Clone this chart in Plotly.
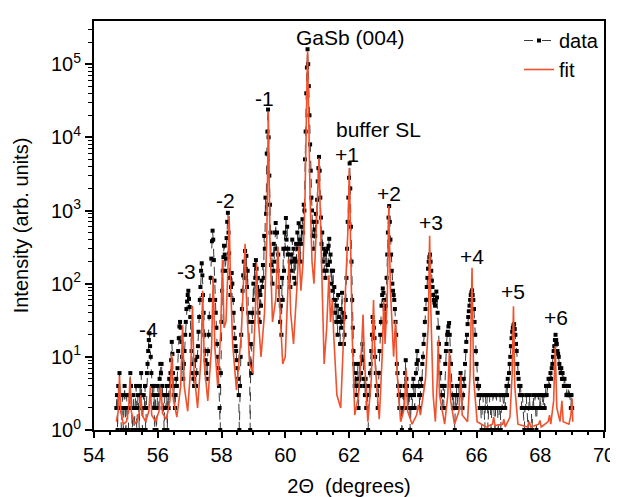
import math
import plotly.graph_objects as go

# ---------------- data ----------------
# measured scan: regular 2-theta grid, start 54.70 deg, step 0.02 deg
scan_start = 54.70
scan_step = 0.02
counts = [
    # 54.70 - 55.68
    2, 3, 1, 4, 2, 6, 3, 2, 1, 2,
    3, 1, 2, 4, 2, 1, 3, 2, 2, 1,
    3, 2, 6, 4, 2, 1, 2, 3, 1, 2,
    2, 4, 1, 2, 3, 2, 1, 4, 2, 6,
    3, 1, 2, 3, 2, 4, 1, 2, 6, 8,
    # 55.70 - 56.68
    12, 17, 21, 14, 10, 6, 4, 3, 2, 4,
    1, 3, 2, 1, 2, 4, 2, 3, 5, 8,
    6, 8, 4, 3, 2, 1, 3, 2, 2, 4,
    1, 3, 2, 5, 4, 6, 9, 16, 11, 6,
    3, 4, 2, 3, 5, 4, 7, 12, 18, 26,
    # 56.70 - 57.68
    30, 25, 16, 10, 7, 5, 8, 12, 20, 30,
    45, 57, 70, 80, 62, 48, 35, 20, 12, 8,
    6, 5, 4, 6, 9, 4, 6, 10, 14, 22,
    35, 60, 90, 150, 190, 130, 70, 40, 20, 12,
    9, 6, 5, 8, 12, 20, 35, 60, 120, 220,
    # 57.70 - 58.68
    380, 530, 400, 210, 110, 60, 40, 25, 15, 10,
    7, 4, 2, 1, 6, 30, 80, 150, 230, 330,
    250, 150, 220, 420, 700, 930, 500, 260, 120, 70,
    90, 140, 100, 60, 40, 25, 18, 14, 12, 9,
    7, 5, 3, 1, 4, 10, 20, 45, 80, 130,
    # 58.70 - 59.68
    200, 120, 280, 160, 240, 90, 150, 40, 30, 8,
    1, 15, 6, 40, 30, 100, 60, 180, 120, 210,
    160, 90, 120, 40, 80, 30, 70, 50, 110, 90,
    180, 120, 450, 300, 1500, 900, 6000, 12000, 24000, 10000,
    3000, 1200, 500, 180, 250, 100, 150, 350, 200, 500,
    # 59.70 - 60.68
    675, 300, 500, 150, 250, 60, 90, 30, 50, 20,
    120, 60, 300, 150, 500, 300, 790, 400, 600, 250,
    300, 120, 200, 90, 250, 150, 400, 200, 300, 120,
    220, 100, 350, 200, 500, 300, 670, 350, 400, 200,
    600, 350, 760, 500, 1200, 1000, 5000, 12000, 40000, 90000,
    # 60.70 - 61.68
    160000, 100000, 50000, 20000, 8000, 3500, 1500, 1000, 450, 700,
    300, 550, 450, 900, 700, 1400, 2500, 3800, 5400, 3500,
    1500, 800, 350, 500, 200, 300, 150, 250, 120, 280,
    150, 300, 180, 330, 410, 200, 250, 100, 150, 80,
    150, 60, 90, 40, 60, 30, 50, 20, 70, 35,
    # 61.70 - 62.68
    30, 15, 45, 25, 75, 30, 40, 15, 20, 35,
    60, 120, 300, 700, 1500, 2800, 4400, 2000, 600, 200,
    60, 25, 12, 8, 4, 6, 3, 5, 4, 8,
    2, 5, 8, 4, 6, 10, 15, 9, 5, 4,
    3, 5, 2, 4, 3, 1, 3, 4, 6, 8,
    # 62.70 - 63.68
    12, 20, 35, 30, 25, 18, 10, 6, 4, 3,
    2, 4, 6, 12, 20, 30, 50, 70, 86, 75,
    60, 45, 30, 50, 120, 250, 500, 800, 1150, 700,
    400, 250, 150, 100, 80, 70, 60, 45, 30, 20,
    8, 6, 4, 3, 2, 4, 3, 2, 1, 3,
    # 63.70 - 64.68
    3, 2, 4, 6, 9, 5, 4, 2, 3, 2,
    3, 1, 2, 3, 2, 4, 5, 3, 2, 4,
    6, 8, 12, 9, 4, 3, 2, 3, 5, 4,
    8, 10, 15, 20, 30, 45, 60, 90, 120, 160,
    200, 230, 250, 200, 150, 110, 90, 70, 60, 55,
    # 64.70 - 65.68
    50, 60, 78, 65, 40, 25, 15, 10, 6, 4,
    3, 2, 3, 4, 2, 4, 8, 12, 15, 20,
    22, 26, 29, 20, 12, 8, 4, 3, 2, 3,
    2, 1, 3, 2, 4, 2, 3, 4, 3, 5,
    6, 4, 3, 2, 3, 5, 4, 8, 12, 16,
    # 65.70 - 66.68
    20, 28, 35, 42, 50, 60, 70, 76, 81, 70,
    60, 45, 30, 20, 12, 8, 5, 4, 3, 4,
    2, 3, 2, 1, 2, 3, 2, 2, 1, 3,
    2, 2, 3, 1, 2, 2, 3, 2, 1, 2,
    2, 3, 2, 2, 1, 2, 3, 2, 2, 1,
    # 66.70 - 67.68
    2, 2, 3, 1, 2, 2, 3, 2, 2, 3,
    2, 3, 4, 3, 5, 4, 6, 8, 10, 14,
    18, 22, 25, 27, 28, 24, 20, 15, 12, 8,
    6, 5, 4, 3, 4, 3, 2, 3, 2, 2,
    1, 2, 2, 3, 2, 2, 1, 2, 3, 2,
    # 67.70 - 68.68
    2, 2, 1, 2, 3, 2, 2, 3, 2, 1,
    2, 2, 3, 2, 2, 3, 2, 3, 3, 2,
    3, 3, 2, 3, 4, 3, 4, 4, 5, 4,
    5, 6, 5, 7, 8, 10, 12, 14, 17, 20,
    17, 15, 12, 11, 10, 8, 7, 6, 7, 5,
    # 68.70 - 69.00
    6, 5, 4, 5, 4, 4, 3, 4, 3, 3, 4, 3, 3, 2, 3, 2,
]
two_theta = [round(scan_start + scan_step * i, 2) for i in range(len(counts))]

# simulated fit: vertices
fit_2theta = [
    54.70, 54.76, 54.80, 54.84, 54.92, 55.02, 55.09, 55.13, 55.17, 55.27,
    55.38, 55.44, 55.47, 55.51, 55.62, 55.72, 55.77, 55.81, 55.93, 56.04,
    56.10, 56.15, 56.27, 56.38, 56.44, 56.49, 56.60, 56.72, 56.78, 56.83,
    56.94, 57.04, 57.09, 57.14, 57.25, 57.36, 57.41, 57.46, 57.57, 57.69,
    57.74, 57.79, 57.88, 57.97, 58.03, 58.08, 58.14, 58.20, 58.24, 58.28,
    58.35, 58.47, 58.62, 58.70, 58.74, 58.78, 58.88, 58.98, 59.06, 59.10,
    59.14, 59.24, 59.35, 59.42, 59.47, 59.52, 59.60, 59.70, 59.77, 59.82,
    59.92, 60.00, 60.08, 60.12, 60.17, 60.26, 60.36, 60.43, 60.49, 60.56,
    60.62, 60.66, 60.70, 60.74, 60.78, 60.84, 60.90, 60.97, 61.02, 61.06,
    61.10, 61.15, 61.22, 61.30, 61.37, 61.42, 61.48, 61.52, 61.62, 61.74,
    61.84, 61.92, 61.97, 62.01, 62.05, 62.10, 62.18, 62.30, 62.40, 62.44,
    62.48, 62.59, 62.70, 62.77, 62.82, 62.95, 63.04, 63.09, 63.13, 63.20,
    63.25, 63.30, 63.40, 63.46, 63.51, 63.62, 63.74, 63.79, 63.84, 63.98,
    64.12, 64.18, 64.24, 64.40, 64.49, 64.53, 64.57, 64.64, 64.71, 64.77,
    64.80, 64.84, 65.00, 65.10, 65.15, 65.19, 65.31, 65.45, 65.51, 65.55,
    65.72, 65.80, 65.86, 65.91, 66.02, 66.30, 66.50, 66.54, 66.58, 66.82,
    66.86, 66.90, 67.05, 67.12, 67.16, 67.20, 67.30, 67.60, 67.66, 67.70,
    67.95, 67.99, 68.03, 68.25, 68.29, 68.33, 68.42, 68.47, 68.52, 68.62,
    68.68, 68.72, 68.90, 68.96, 69.00, 69.02,
]
fit_intensity = [
    1.3, 1.8, 5.5, 1.8, 1.2, 1.3, 2.0, 5.2, 1.8, 1.2,
    1.4, 2.0, 3.0, 1.6, 1.3, 1.8, 4.0, 1.6, 1.3, 1.8,
    3.8, 1.7, 1.4, 2.5, 11, 2.6, 1.5, 4, 27, 4,
    1.8, 8, 50, 6, 2.0, 10, 80, 8, 2.5, 14,
    125, 14, 4, 20, 210, 25, 30, 150, 850, 120,
    15, 3.5, 20, 140, 350, 70, 8, 6, 40, 190,
    40, 10, 40, 400, 22000, 400, 30, 60, 320, 60,
    8, 10, 60, 220, 40, 15, 80, 320, 80, 200,
    1500, 15000, 150000, 15000, 1500, 200, 100, 500, 1500, 5200,
    900, 120, 8, 25, 130, 30, 60, 20, 3, 2,
    20, 200, 600, 3800, 500, 20, 1.6, 3, 15, 38,
    10, 1.3, 5, 60, 8, 1.4, 10, 60, 15, 60,
    1150, 80, 10, 31, 6, 1.3, 2, 6.7, 1.8, 1.2,
    1.6, 2.2, 1.6, 5, 30, 450, 40, 3, 1.3, 5,
    17, 3, 1.2, 3, 12, 2.5, 1.2, 1.8, 5.7, 1.6,
    1.3, 6, 165, 5, 1.3, 1.1, 1.2, 1.5, 1.15, 1.2,
    1.4, 1.1, 1.5, 6, 49, 4, 1.2, 1.1, 1.3, 1.1,
    1.2, 1.35, 1.1, 1.3, 1.6, 1.2, 2.5, 14, 2, 1.3,
    2.5, 1.3, 1.2, 1.6, 2.7, 1.3,
]

# peak labels
label_texts = ["GaSb (004)", "-1", "-2", "-3", "-4", "buffer SL", "+1", "+2", "+3", "+4", "+5", "+6"]
label_2theta = [62.05, 59.34, 58.12, 56.89, 55.72, 62.94, 61.95, 63.27, 64.57, 65.85, 67.14, 68.50]
label_intensity = [2.3e5, 3.4e4, 1.35e3, 148, 23.5, 1.3e4, 5.9e3, 1.7e3, 690, 234, 78, 34]

x_ticks = [54, 56, 58, 60, 62, 64, 66, 68, 70]
y_ticks = [1, 10, 100, 1000, 10000, 100000]
y_ticktext = ["10<sup>%d</sup>" % k for k in range(6)]

FONT = "Liberation Sans, Arial, sans-serif"

fig = go.Figure()
fig.add_trace(go.Scatter(
    x=two_theta, y=counts, name="data", mode="lines+markers",
    line=dict(color="#3a3a3a", width=1, dash="dash"),
    marker=dict(symbol="square", size=4, color="black", line=dict(width=0)),
))
fig.add_trace(go.Scatter(
    x=fit_2theta, y=fit_intensity, name="fit", mode="lines",
    line=dict(color="#F0522E", width=1.6),
))

for t, xv, yv in zip(label_texts, label_2theta, label_intensity):
    fig.add_annotation(x=xv, y=math.log10(yv), text=t, showarrow=False,
                       font=dict(family=FONT, size=21, color="black"),
                       xanchor="center", yanchor="middle")

minor_y = [m * 10 ** k for k in range(6) for m in range(2, 10)]

fig.update_layout(
    width=618, height=497,
    margin=dict(l=86, r=11, t=11, b=67),
    paper_bgcolor="white", plot_bgcolor="white",
    font=dict(family=FONT, size=20, color="black"),
    showlegend=True,
    legend=dict(x=1, y=1.0, xanchor="right", yanchor="top",
                bgcolor="rgba(0,0,0,0)", font=dict(size=20),
                tracegroupgap=0),
    xaxis=dict(
        range=[54, 70], tickmode="array", tickvals=x_ticks,
        ticks="outside", ticklen=6, tickwidth=1.5, tickcolor="black",
        showline=True, linewidth=2, linecolor="black", mirror=True,
        showgrid=False, zeroline=False,
        tickfont=dict(size=20),
        minor=dict(dtick=0.5, ticks="outside", ticklen=3, tickwidth=1.5, tickcolor="black", showgrid=False),
        title=dict(text="2\u0398  (degrees)", font=dict(size=20), standoff=14),
    ),
    yaxis=dict(
        type="log", range=[0, 5.59], tickmode="array", tickvals=y_ticks, ticktext=y_ticktext,
        ticks="outside", ticklen=7, tickwidth=1.5, tickcolor="black",
        showline=True, linewidth=2, linecolor="black", mirror=True,
        showgrid=False, zeroline=False,
        tickfont=dict(size=20),
        minor=dict(tickmode="array", tickvals=minor_y, ticks="outside", ticklen=4, tickwidth=1, tickcolor="black", showgrid=False),
        title=dict(text="Intensity (arb. units)", font=dict(size=20), standoff=17),
    ),
)

fig.write_html("out.html")
